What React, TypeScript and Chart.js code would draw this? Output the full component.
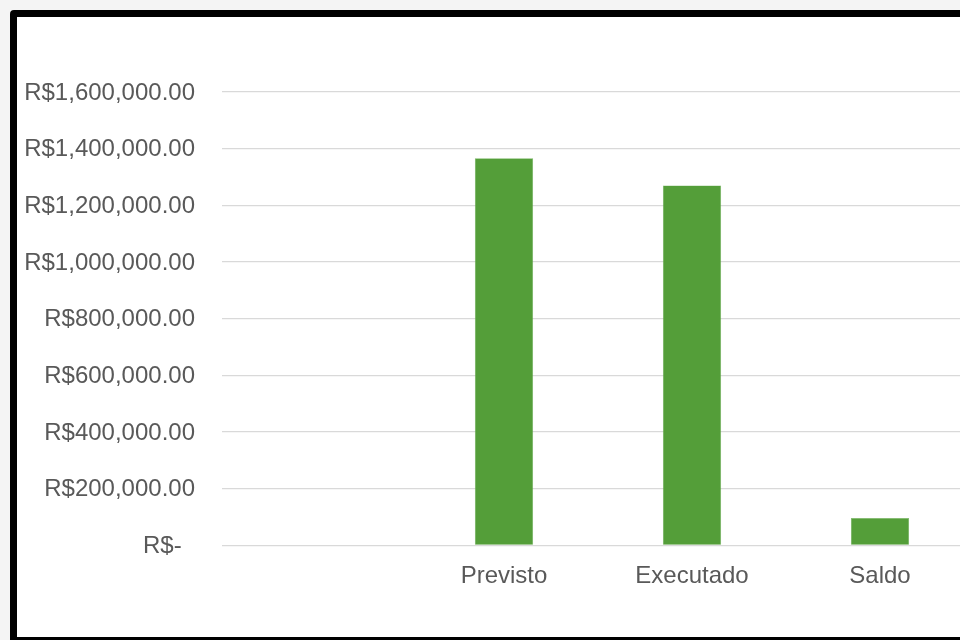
import React, { useEffect, useRef } from "react";
import { Chart, registerables } from "chart.js";

Chart.register(...registerables);

const categories: string[] = ["", "Previsto", "Executado", "Saldo"];
const values: (number | null)[] = [null, 1366000, 1270000, 96000];
const yTickValues: number[] = [0, 200000, 400000, 600000, 800000, 1000000, 1200000, 1400000, 1600000];
const yTickLabels: string[] = [
  "R$-  ",
  "R$200,000.00",
  "R$400,000.00",
  "R$600,000.00",
  "R$800,000.00",
  "R$1,000,000.00",
  "R$1,200,000.00",
  "R$1,400,000.00",
  "R$1,600,000.00",
];

const FONT = { family: "'Liberation Sans', Arial, sans-serif", size: 24 };

export default function App() {
  const ref = useRef<HTMLCanvasElement | null>(null);

  useEffect(() => {
    document.body.style.background = "#f4f4f4";
    if (!ref.current) return;
    const chart = new Chart(ref.current, {
      type: "bar",
      data: {
        labels: categories,
        datasets: [
          {
            data: values,
            backgroundColor: "#549e39",
            borderColor: "#79b865",
            borderWidth: 0.5,
            barPercentage: 0.31,
            categoryPercentage: 1,
          },
        ],
      },
      options: {
        animation: false,
        responsive: true,
        maintainAspectRatio: false,
        layout: { padding: { top: 75, right: 23, bottom: 0, left: 0 } },
        plugins: { legend: { display: false }, tooltip: { enabled: false } },
        scales: {
          x: {
            grid: { display: false },
            border: { display: false },
            ticks: { color: "#595959", font: FONT, padding: 9 },
            afterFit: (s: any) => {
              s.height = 91.7;
            },
          },
          y: {
            min: 0,
            max: 1600000,
            afterBuildTicks: (s: any) => {
              s.ticks = yTickValues.map((v) => ({ value: v }));
            },
            grid: { color: "#d9d9d9", lineWidth: 1.3, drawTicks: false },
            border: { display: false },
            ticks: {
              color: "#595959",
              font: FONT,
              padding: 27,
              labelOffset: 1,
              callback: (v: any) => {
                const i = yTickValues.indexOf(Number(v));
                return i >= 0 ? yTickLabels[i] : "";
              },
            },
            afterFit: (s: any) => {
              s.width = 205;
            },
          },
        },
      },
    });
    return () => chart.destroy();
  }, []);

  return (
    <div
      style={{
        position: "fixed",
        left: 10,
        top: 10,
        width: 980,
        height: 620,
        border: "7px solid #000",
        borderRadius: 4,
        background: "#fff",
      }}
    >
      <div style={{ position: "relative", width: 980, height: 620 }}>
        <canvas ref={ref} />
      </div>
    </div>
  );
}
